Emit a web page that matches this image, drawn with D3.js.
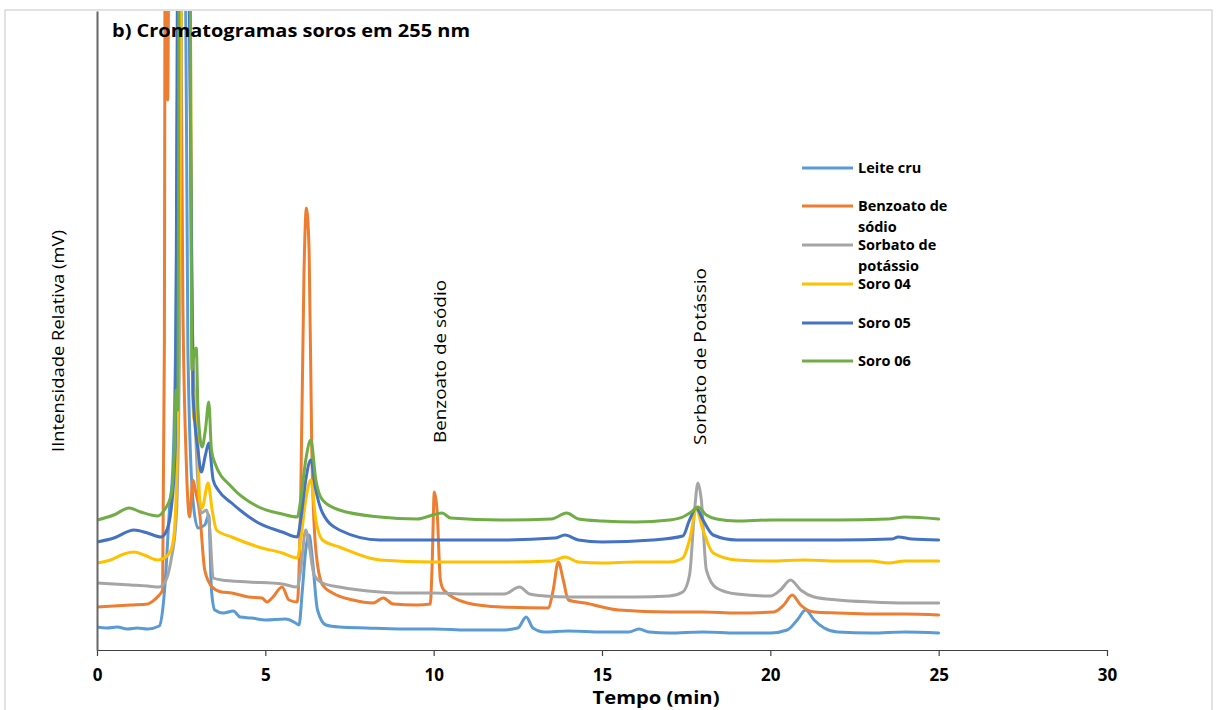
<!DOCTYPE html>
<html>
<head>
<meta charset="utf-8">
<script src="https://cdn.jsdelivr.net/npm/d3@7/dist/d3.min.js"></script>
<style>
  html, body { margin: 0; padding: 0; background: #fff; }
  svg { display: block; }
  text { font-family: "Open Sans", "Lato", sans-serif; fill: #000; }
</style>
</head>
<body>
<svg id="chart" width="1217" height="710"></svg>
<script>
// Chromatograms at 255 nm: time (min) and relative intensity for each sample
const seriesNames = ["Leite cru", "Benzoato de sódio", "Sorbato de potássio", "Soro 04", "Soro 05", "Soro 06"];
const seriesColors = ["#5B9BD5", "#ED7D31", "#A5A5A5", "#FFC000", "#4472C4", "#70AD47"];
const legendLines = [["Leite cru"], ["Benzoato de", "sódio"], ["Sorbato de", "potássio"], ["Soro 04"], ["Soro 05"], ["Soro 06"]];
const xTicks = [0, 5, 10, 15, 20, 25, 30];

const leiteCru = [
  [0, 23], [0.3, 22], [0.6, 23], [0.9, 21], [1.2, 22], [1.5, 21], [1.85, 24], [1.95, 40], [2.05, 80],
  [2.15, 140], [2.25, 180], [2.35, 350], [2.45, 800], [2.6, 800], [2.7, 300], [2.85, 150], [3.0, 122],
  [3.2, 125], [3.32, 135], [3.4, 60], [3.5, 40], [3.75, 37], [4.05, 39], [4.25, 33], [4.6, 32],
  [5.0, 30], [5.6, 31], [5.9, 27], [6.0, 25], [6.1, 60], [6.2, 100], [6.3, 115], [6.4, 90],
  [6.55, 40], [6.8, 25], [7.2, 23], [8, 22], [9, 21], [10, 21], [11, 20], [12, 20], [12.5, 22],
  [12.75, 33], [12.95, 22], [13.3, 18], [14, 19], [15, 18], [15.8, 18], [16.1, 21], [16.4, 18],
  [17, 17], [18, 18], [19, 17], [20, 17], [20.5, 20], [20.8, 30], [21.05, 40], [21.3, 30],
  [21.6, 22], [22, 18], [23, 17], [24, 18], [25, 17]
];

const benzoato = [
  [0, 43], [0.5, 44], [1.0, 45], [1.5, 46], [1.7, 50], [1.85, 55], [1.95, 60], [2.0, 300], [2.03, 800],
  [2.1, 550], [2.15, 800], [2.45, 800], [2.55, 350], [2.65, 190], [2.75, 133], [2.85, 170], [2.92, 160],
  [3.05, 137], [3.2, 80], [3.42, 63], [3.7, 58], [4.0, 57], [4.5, 53], [4.9, 52], [5.05, 48],
  [5.2, 52], [5.5, 63], [5.7, 50], [5.95, 48], [6.05, 150], [6.15, 380], [6.22, 442], [6.3, 400],
  [6.38, 200], [6.5, 100], [6.7, 65], [7.0, 57], [7.6, 50], [8.2, 47], [8.5, 52], [8.8, 46],
  [9.5, 45], [9.9, 46], [9.95, 80], [10.02, 158], [10.1, 140], [10.2, 70], [10.3, 60], [11, 47],
  [12, 43], [13.4, 42], [13.55, 60], [13.7, 88], [13.85, 70], [14.0, 50], [14.5, 47], [15.5, 40],
  [17.0, 38], [18, 38], [19, 37], [20.1, 38], [20.4, 45], [20.65, 55], [20.9, 45], [21.3, 38],
  [22, 37], [23, 36], [24, 36], [25, 35]
];

const sorbato = [
  [0, 67], [0.5, 66], [1, 65], [1.5, 64], [1.85, 63], [2.05, 70], [2.2, 90], [2.35, 130], [2.45, 300],
  [2.55, 800], [2.7, 800], [2.8, 400], [2.95, 200], [3.1, 137], [3.25, 140], [3.35, 120], [3.45, 72],
  [3.7, 70], [4.5, 68], [5.5, 66], [5.95, 63], [6.05, 80], [6.2, 120], [6.3, 105], [6.45, 75],
  [6.7, 67], [7.2, 63], [8.4, 58], [9, 57], [10, 57], [11, 56], [12.1, 56], [12.55, 63], [12.85, 56],
  [13.3, 54], [14, 53], [15, 53], [16, 53], [17, 54], [17.4, 58], [17.6, 75], [17.75, 140],
  [17.85, 167], [17.95, 150], [18.1, 80], [18.4, 62], [19, 56], [20, 54], [20.3, 60], [20.6, 70],
  [20.9, 60], [21.3, 53], [22, 50], [23, 48], [24, 47], [25, 47]
];

const soro04 = [
  [0, 87], [0.4, 90], [0.8, 96], [1.1, 98], [1.4, 95], [1.8, 90], [2.0, 92], [2.2, 100], [2.3, 120],
  [2.38, 200], [2.45, 400], [2.55, 800], [2.75, 800], [2.82, 300], [2.88, 230], [2.95, 260],
  [3.05, 150], [3.12, 142], [3.3, 167], [3.42, 140], [3.55, 120], [4.0, 113], [4.8, 103], [5.5, 97],
  [5.95, 92], [6.05, 110], [6.2, 150], [6.35, 170], [6.5, 130], [6.7, 110], [7.2, 103], [8.4, 90],
  [10, 88], [12, 88], [13.5, 89], [13.9, 93], [14.3, 88], [15, 87], [16, 88], [17.0, 88], [17.4, 92],
  [17.6, 110], [17.8, 140], [18.0, 120], [18.3, 97], [19, 90], [20, 89], [21, 90], [22, 89], [23, 89],
  [23.5, 87], [24, 89], [25, 89]
];

const soro05 = [
  [0, 108], [0.5, 112], [1.1, 120], [1.5, 117], [1.9, 113], [2.05, 118], [2.2, 140], [2.32, 200],
  [2.42, 800], [2.7, 800], [2.85, 257], [3.0, 200], [3.1, 178], [3.22, 195], [3.32, 207], [3.45, 170],
  [3.6, 160], [4.0, 147], [4.8, 127], [5.5, 118], [5.95, 113], [6.05, 130], [6.2, 170], [6.35, 190],
  [6.5, 160], [6.7, 137], [7.2, 120], [8.4, 110], [10, 110], [12, 110], [13.6, 112], [13.9, 115],
  [14.3, 110], [15, 108], [16.5, 110], [17.4, 114], [17.6, 130], [17.8, 142], [18.0, 130], [18.3, 115],
  [19, 110], [20, 110], [22, 110], [23.6, 111], [23.8, 113], [24.2, 111], [25, 110]
];

const soro06 = [
  [0, 130], [0.5, 135], [0.95, 142], [1.3, 138], [1.8, 134], [2.0, 140], [2.2, 155], [2.3, 200],
  [2.35, 260], [2.4, 240], [2.45, 800], [2.75, 800], [2.82, 280], [2.9, 300], [2.95, 302], [3.0, 240],
  [3.12, 203], [3.22, 220], [3.32, 248], [3.4, 200], [3.5, 187], [4.0, 163], [4.8, 143], [5.5, 136],
  [5.95, 133], [6.05, 150], [6.2, 190], [6.35, 210], [6.5, 170], [6.7, 150], [7.2, 140], [8.4, 133],
  [9.5, 131], [10.25, 137], [10.5, 132], [12, 130], [13.5, 131], [13.95, 137], [14.3, 131], [15, 129],
  [16, 128], [17.0, 130], [17.4, 133], [17.65, 138], [17.85, 143], [18.1, 135], [18.4, 131], [19, 129],
  [20, 130], [22, 130], [23.5, 131], [24, 133], [25, 131]
];

const seriesData = [leiteCru, benzoato, sorbato, soro04, soro05, soro06];

const svg = d3.select("#chart");
const plot = { left: 97, right: 1107, top: 11, bottom: 650 };

const x = d3.scaleLinear().domain([0, 30]).range([plot.left, plot.right]);
const y = d3.scaleLinear().domain([0, 639]).range([plot.bottom, plot.top]);

// outer chart frame
svg.append("rect")
  .attr("x", 5).attr("y", 10).attr("width", 1207).attr("height", 720)
  .attr("fill", "#fff").attr("stroke", "#D9D9D9").attr("stroke-width", 1.5);

svg.append("defs").append("clipPath").attr("id", "plotClip")
  .append("rect")
  .attr("x", plot.left).attr("y", plot.top)
  .attr("width", plot.right - plot.left).attr("height", plot.bottom - plot.top);

// chromatogram traces
const line = d3.line()
  .x(d => x(d[0]))
  .y(d => y(d[1]))
  .curve(d3.curveMonotoneX);

svg.append("g").attr("clip-path", "url(#plotClip)")
  .selectAll("path")
  .data(seriesData)
  .join("path")
  .attr("d", line)
  .attr("fill", "none")
  .attr("stroke", (d, i) => seriesColors[i])
  .attr("stroke-width", 3)
  .attr("stroke-linejoin", "round")
  .attr("stroke-linecap", "round");

// x axis
const xAxis = svg.append("g")
  .attr("transform", `translate(0,${plot.bottom})`)
  .call(d3.axisBottom(x).tickValues(xTicks).tickSize(6).tickSizeOuter(0).tickPadding(13));
xAxis.select(".domain").attr("stroke", "#404040").attr("stroke-width", 1.2);
xAxis.selectAll(".tick line").attr("stroke", "#404040").attr("stroke-width", 1.2);
xAxis.selectAll(".tick text")
  .attr("fill", "#000")
  .style("font-family", "'Open Sans', sans-serif")
  .style("font-weight", "bold")
  .style("font-size", "17px");

// y axis (no ticks)
const yAxis = svg.append("g")
  .attr("transform", `translate(${plot.left},0)`)
  .call(d3.axisLeft(y).tickValues([]).tickSizeOuter(0));
yAxis.select(".domain").attr("stroke", "#666").attr("stroke-width", 2);

// axis titles
svg.append("text")
  .attr("x", 656).attr("y", 704)
  .attr("text-anchor", "middle")
  .attr("textLength", 127).attr("lengthAdjust", "spacingAndGlyphs")
  .style("font-weight", "bold").style("font-size", "18px")
  .text("Tempo (min)");

svg.append("text")
  .attr("transform", "translate(64,341) rotate(-90)")
  .attr("text-anchor", "middle")
  .attr("textLength", 222).attr("lengthAdjust", "spacingAndGlyphs")
  .style("font-size", "17px")
  .text("IIntensidade Relativa (mV)");

// title
svg.append("text")
  .attr("x", 112).attr("y", 37)
  .attr("textLength", 358).attr("lengthAdjust", "spacingAndGlyphs")
  .style("font-weight", "bold").style("font-size", "17px")
  .text("b) Cromatogramas soros em 255 nm");

// peak annotations
svg.append("text")
  .attr("transform", `translate(${x(10.1) + 9},${443}) rotate(-90)`)
  .attr("textLength", 163).attr("lengthAdjust", "spacingAndGlyphs")
  .style("font-size", "17px")
  .text("Benzoato de sódio");

svg.append("text")
  .attr("transform", `translate(${x(17.85) + 8},${445}) rotate(-90)`)
  .attr("textLength", 177).attr("lengthAdjust", "spacingAndGlyphs")
  .style("font-size", "17px")
  .text("Sorbato de Potássio");

// legend
const legendY = [168, 206, 245, 284, 323, 361];
const legend = svg.append("g");
legendLines.forEach((lines, i) => {
  legend.append("line")
    .attr("x1", 802).attr("x2", 853)
    .attr("y1", legendY[i]).attr("y2", legendY[i])
    .attr("stroke", seriesColors[i]).attr("stroke-width", 3);
  lines.forEach((t, j) => {
    legend.append("text")
      .attr("x", 858).attr("y", legendY[i] + 5 + j * 21)
      .style("font-weight", "bold").style("font-size", "14.5px")
      .text(t);
  });
});
</script>
</body>
</html>
